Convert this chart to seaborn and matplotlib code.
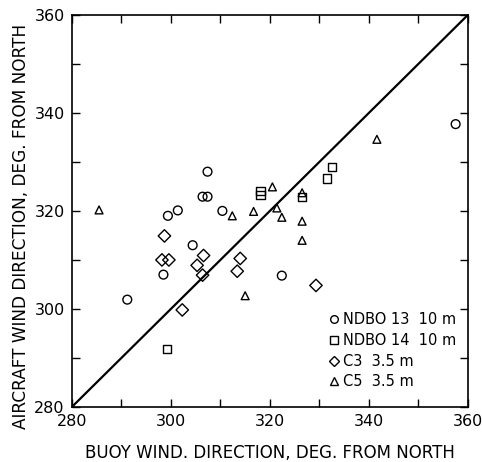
import matplotlib
matplotlib.use("Agg")
import matplotlib.pyplot as plt
from matplotlib.lines import Line2D
from matplotlib.ticker import MultipleLocator
import numpy as np
import pandas as pd
import seaborn as sns

# Buoy vs aircraft wind direction (deg from north), by buoy
ndbo13_buoy = [357.5, 307.4, 306.4, 307.4, 301.4, 299.4, 310.4, 304.4, 298.5, 291.2, 322.4]
ndbo13_air = [337.7, 328.0, 322.9, 322.9, 320.1, 319.0, 320.0, 313.0, 307.0, 301.9, 306.8]

ndbo14_buoy = [332.6, 331.5, 318.1, 318.1, 326.5, 299.2]
ndbo14_air = [328.9, 326.6, 324.0, 323.2, 322.9, 291.8]

c3_buoy = [298.7, 298.2, 299.6, 306.6, 305.3, 306.4, 314.0, 313.4, 302.3, 329.3]
c3_air = [314.9, 310.0, 310.0, 310.9, 308.9, 306.9, 310.3, 307.7, 299.8, 304.8]

c5_buoy = [285.5, 341.6, 320.5, 326.5, 312.4, 316.7, 321.4, 322.4, 326.5, 326.5, 315.0]
c5_air = [320.2, 334.6, 324.9, 323.7, 319.0, 319.9, 320.6, 318.7, 317.9, 314.0, 302.7]

series_names = ["NDBO 13  10 m", "NDBO 14  10 m", "C3  3.5 m", "C5  3.5 m"]
series_markers = ["o", "s", "D", "^"]

frames = []
for name, bx, ay in zip(series_names,
                        [ndbo13_buoy, ndbo14_buoy, c3_buoy, c5_buoy],
                        [ndbo13_air, ndbo14_air, c3_air, c5_air]):
    frames.append(pd.DataFrame({"buoy": bx, "aircraft": ay, "sensor": name}))
df = pd.concat(frames, ignore_index=True)

sns.set_style("ticks")
plt.rcParams["font.family"] = ["DejaVu Sans"]
plt.rcParams["text.color"] = "black"
plt.rcParams["axes.labelcolor"] = "black"
plt.rcParams["xtick.color"] = "black"
plt.rcParams["ytick.color"] = "black"

fig = plt.figure(figsize=(4.82, 4.62), dpi=100)
ax = fig.add_axes([0.149, 0.119, 0.822, 0.849])

marker_sizes = {"o": 40, "s": 34, "D": 40, "^": 32}
for name, mk in zip(series_names, series_markers):
    sub = df[df["sensor"] == name]
    sns.scatterplot(data=sub, x="buoy", y="aircraft", marker=mk,
                    s=marker_sizes[mk], facecolor="none", edgecolor="black",
                    linewidth=1.0, ax=ax, legend=False)

# 1:1 line
ax.plot([280, 360], [280, 360], color="black", linewidth=1.6, zorder=1)

ax.set_xlim(280, 360)
ax.set_ylim(280, 360)
ax.xaxis.set_major_locator(MultipleLocator(20))
ax.yaxis.set_major_locator(MultipleLocator(20))
ax.xaxis.set_minor_locator(MultipleLocator(10))
ax.yaxis.set_minor_locator(MultipleLocator(10))
ax.tick_params(which="both", direction="in", top=True, right=True,
               length=6, width=1.0, color="black", labelcolor="black",
               labelsize=11.5, pad=5)
for sp in ax.spines.values():
    sp.set_linewidth(1.2)
    sp.set_color("black")

ax.set_xlabel("BUOY WIND. DIRECTION, DEG. FROM NORTH", fontsize=12, labelpad=11)
ax.set_ylabel("AIRCRAFT WIND DIRECTION, DEG. FROM NORTH", fontsize=12.2)
ax.yaxis.set_label_coords(-0.106, 0.46)

handles = [Line2D([], [], linestyle="none", marker=mk, markersize=ms,
                  markerfacecolor="none", markeredgecolor="black",
                  markeredgewidth=1.0)
           for mk, ms in zip(series_markers, [5.5, 5.5, 5.5, 5.5])]
leg = ax.legend(handles, series_names, loc="lower right", frameon=False,
                fontsize=10.5, handletextpad=0.1, handlelength=1.0,
                borderaxespad=0.4, labelspacing=0.4,
                bbox_to_anchor=(1.0, 0.015))
for t in leg.get_texts():
    t.set_color("black")

fig.savefig("out.png", dpi=100, facecolor="white")
